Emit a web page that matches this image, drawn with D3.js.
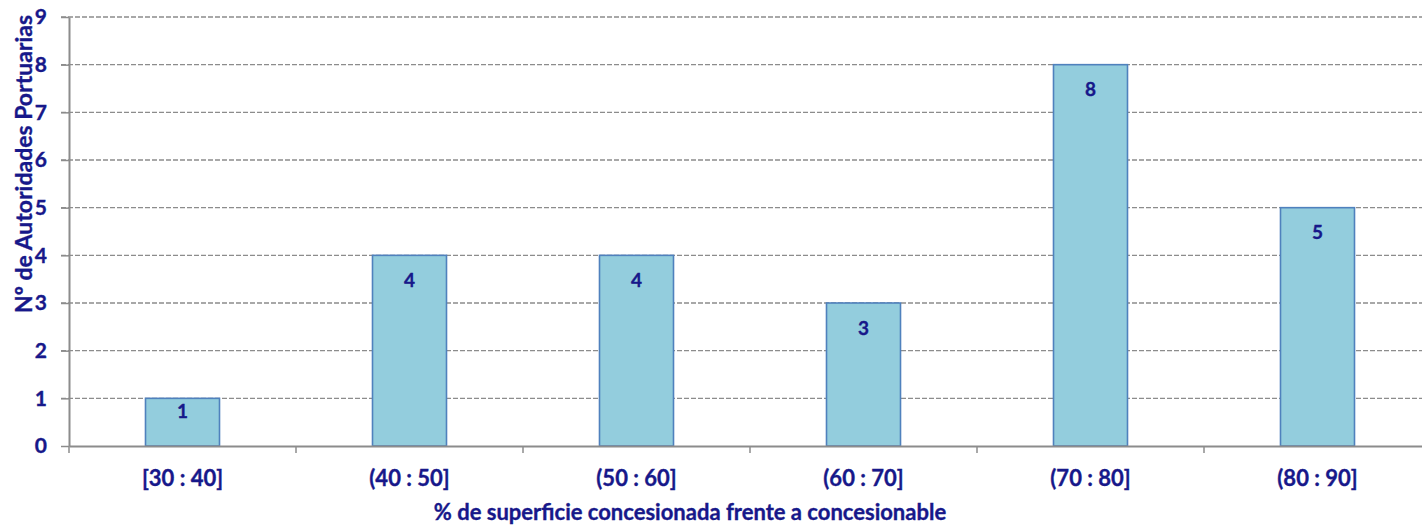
<!DOCTYPE html>
<html>
<head>
<meta charset="utf-8">
<script src="https://cdn.jsdelivr.net/npm/d3@7"></script>
<style>
  body { margin: 0; background: #fff; }
  text { font-family: Lato, "Liberation Sans", sans-serif; font-weight: bold; fill: #17188a; stroke: #17188a; stroke-width: 0.35px; }
</style>
</head>
<body>
<div id="chart"></div>
<script>
// data
const categories = ["[30 : 40]", "(40 : 50]", "(50 : 60]", "(60 : 70]", "(70 : 80]", "(80 : 90]"];
const counts = [1, 4, 4, 3, 8, 5];
const yTicks = [0, 1, 2, 3, 4, 5, 6, 7, 8, 9];
const xTitle = "% de superficie concesionada frente a concesionable";
const yTitle = "Nº de Autoridades Portuarias";

const W = 1422, H = 525;
const margin = { top: 17, right: -9, bottom: 79, left: 69 };
const gray = "#8c8c8c";

const svg = d3.select("#chart").append("svg")
  .attr("width", W)
  .attr("height", H);

const x = d3.scaleBand()
  .domain(categories)
  .range([margin.left, W - margin.right])
  .paddingInner(0.674)
  .paddingOuter(0.337);

const y = d3.scaleLinear()
  .domain([0, 9])
  .range([H - margin.bottom, margin.top]);

// dashed gridlines
svg.append("g")
  .selectAll("line")
  .data(yTicks.filter(d => d > 0))
  .join("line")
  .attr("x1", margin.left - 8)
  .attr("x2", W)
  .attr("y1", d => y(d))
  .attr("y2", d => y(d))
  .attr("stroke", gray)
  .attr("stroke-width", 1.4)
  .attr("stroke-dasharray", "5,2");

// bars
svg.append("g")
  .selectAll("rect")
  .data(counts)
  .join("rect")
  .attr("x", (d, i) => x(categories[i]))
  .attr("y", d => y(d))
  .attr("width", x.bandwidth())
  .attr("height", d => y(0) - y(d))
  .attr("fill", "#93cddd")
  .attr("stroke", "#4f81bd")
  .attr("stroke-width", 1.6);

// value labels, inside the top of each bar
svg.append("g")
  .selectAll("text")
  .data(counts)
  .join("text")
  .attr("x", (d, i) => x(categories[i]) + x.bandwidth() / 2)
  .attr("y", d => y(d) + Math.min(25, (y(0) - y(d)) / 2 - 11))
  .attr("dy", "0.35em")
  .attr("text-anchor", "middle")
  .style("font-size", "19px")
  .text(d => d);

// y axis
const yAxis = svg.append("g")
  .attr("transform", `translate(${margin.left},0)`)
  .call(d3.axisLeft(y).tickValues(yTicks).tickSizeInner(8).tickSizeOuter(0).tickPadding(14).tickFormat(d3.format("d")));
yAxis.select(".domain").attr("stroke", gray).attr("stroke-width", 2);
yAxis.selectAll(".tick line").attr("stroke", gray).attr("stroke-width", 1.5);
yAxis.selectAll(".tick text").style("font-size", "21px").attr("fill", "#17188a");

// x axis, ticks between categories
const xAxis = svg.append("g")
  .attr("transform", `translate(0,${y(0)})`)
  .call(d3.axisBottom(x).tickSize(0).tickSizeOuter(0));
xAxis.select(".domain").attr("stroke", gray).attr("stroke-width", 2);
xAxis.selectAll(".tick text")
  .attr("y", 40)
  .attr("dy", null)
  .style("font-size", "22px")
  .attr("fill", "#17188a");

const step = x.step();
xAxis.append("g")
  .selectAll("line")
  .data(d3.range(categories.length + 1))
  .join("line")
  .attr("x1", i => margin.left + i * step)
  .attr("x2", i => margin.left + i * step)
  .attr("y1", 0)
  .attr("y2", 7)
  .attr("stroke", gray)
  .attr("stroke-width", 1.5);

// axis titles
svg.append("text")
  .attr("x", 690)
  .attr("y", 520)
  .attr("text-anchor", "middle")
  .style("font-size", "22px")
  .text(xTitle);

svg.append("text")
  .attr("transform", `translate(32,164) rotate(-90)`)
  .attr("text-anchor", "middle")
  .style("font-size", "23px")
  .text(yTitle);
</script>
</body>
</html>
